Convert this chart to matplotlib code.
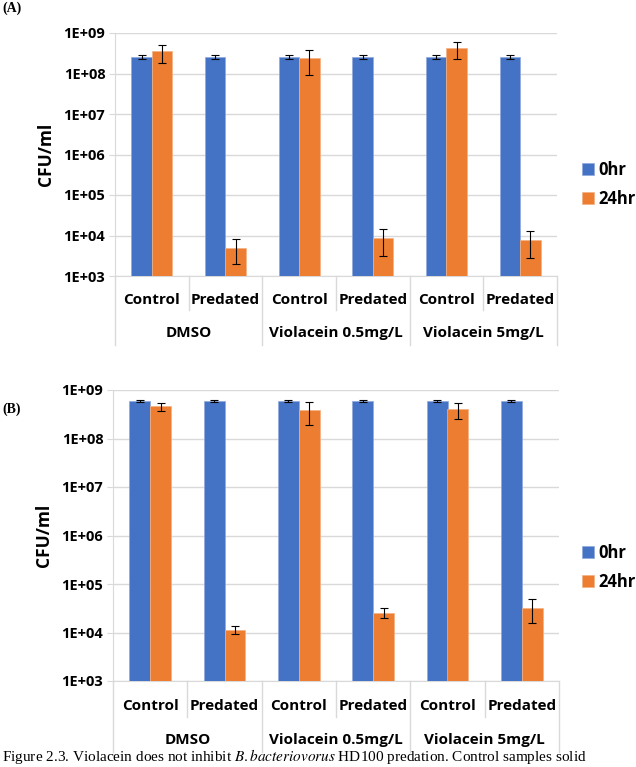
import matplotlib.pyplot as plt
import numpy as np

# data
categories = ['Control', 'Predated', 'Control', 'Predated', 'Control', 'Predated']
groups = ['DMSO', 'Violacein 0.5mg/L', 'Violacein 5mg/L']
yticks = [1e3, 1e4, 1e5, 1e6, 1e7, 1e8, 1e9]
ytick_labels = ['1E+03', '1E+04', '1E+05', '1E+06', '1E+07', '1E+08', '1E+09']

a_0hr = [2.6e8, 2.6e8, 2.6e8, 2.6e8, 2.6e8, 2.6e8]
a_0hr_err = [0.3e8, 0.3e8, 0.3e8, 0.3e8, 0.3e8, 0.3e8]
a_24hr = [3.5e8, 5.0e3, 2.4e8, 8.7e3, 4.2e8, 7.8e3]
a_24hr_err = [1.7e8, 3.0e3, 1.5e8, 5.5e3, 1.9e8, 5.0e3]

b_0hr = [6.0e8, 6.0e8, 6.0e8, 6.0e8, 6.0e8, 6.0e8]
b_0hr_err = [0.3e8, 0.3e8, 0.3e8, 0.3e8, 0.3e8, 0.3e8]
b_24hr = [4.6e8, 1.15e4, 3.8e8, 2.55e4, 4.0e8, 3.2e4]
b_24hr_err = [0.9e8, 2.2e3, 1.9e8, 6.0e3, 1.45e8, 1.6e4]

BLUE = '#4472C4'
ORANGE = '#ED7D31'
GRID = '#d9d9d9'
FONT = 'Open Sans'

fig = plt.figure(figsize=(6.36, 7.67), dpi=100)


def draw_panel(rect, v0, e0, v24, e24, cat_drop, grp_drop, leg_x, leg_y):
    ax = fig.add_axes(rect)
    x = np.arange(len(categories))
    w = 0.28
    ax.bar(x - w / 2, v0, w, color=BLUE, edgecolor='#8fa9dc', linewidth=0.5,
           yerr=e0, error_kw=dict(ecolor='black', elinewidth=0.8, capsize=3, capthick=0.8),
           label='0hr', zorder=3)
    ax.bar(x + w / 2, v24, w, color=ORANGE, edgecolor='#f4b183', linewidth=0.5,
           yerr=e24, error_kw=dict(ecolor='black', elinewidth=0.8, capsize=3, capthick=0.8),
           label='24hr', zorder=3)
    ax.set_yscale('log')
    ax.set_ylim(1e3, 1e9)
    ax.set_xlim(-0.5, len(categories) - 0.5)
    ax.set_yticks(yticks)
    ax.set_yticklabels(ytick_labels, fontfamily=FONT, fontweight='bold', fontsize=10.5)
    ax.yaxis.set_minor_locator(plt.NullLocator())
    ax.set_xticks([])
    ax.grid(axis='y', color=GRID, linewidth=1, zorder=0)
    for s in ['top', 'right']:
        ax.spines[s].set_visible(False)
    ax.spines['left'].set_color(GRID)
    ax.spines['bottom'].set_color(GRID)
    ax.tick_params(axis='y', length=4, color=GRID, pad=3)
    ax.set_ylabel('CFU/ml', fontfamily=FONT, fontweight='bold', fontsize=12.5, labelpad=6)

    # two-level category axis
    trans = ax.get_xaxis_transform()
    h = rect[3] * 7.67 * 100  # axes height in px
    c_off = -cat_drop / h
    g_off = -grp_drop / h
    for i, c in enumerate(categories):
        ax.text(i, c_off * 0.7, c, transform=trans, ha='center', va='center',
                fontfamily=FONT, fontweight='bold', fontsize=11)
    for j, g in enumerate(groups):
        ax.text(2 * j + 0.5, c_off + (g_off - c_off) * 0.66, g, transform=trans,
                ha='center', va='center', fontfamily=FONT, fontweight='bold', fontsize=11)
    for k in range(len(categories) + 1):
        xk = k - 0.5
        yk = g_off if k % 2 == 0 else c_off
        ax.plot([xk, xk], [0, yk], transform=trans, color=GRID, linewidth=1, clip_on=False)

    ax.legend(loc='center left', bbox_to_anchor=(1 + leg_x, leg_y), frameon=False, borderpad=0,
              borderaxespad=0, prop=dict(family=FONT, weight='bold', size=12),
              handlelength=0.7, handleheight=0.7, handletextpad=0.25, labelspacing=0.65)
    return ax


draw_panel([115 / 636, 1 - 276 / 767, 442 / 636, 243 / 767],
           a_0hr, a_0hr_err, a_24hr, a_24hr_err, 34, 69, 0.057, 0.377)
draw_panel([113 / 636, 1 - 681 / 767, 446 / 636, 291 / 767],
           b_0hr, b_0hr_err, b_24hr, b_24hr_err, 36, 71, 0.052, 0.39)

fig.text(2 / 636, 1 - 8 / 767, '(A)', fontfamily='Liberation Serif', fontweight='bold',
         fontsize=10, ha='left', va='center')
fig.text(2 / 636, 1 - 409 / 767, '(B)', fontfamily='Liberation Serif', fontweight='bold',
         fontsize=10, ha='left', va='center')
fig.text(2 / 636, 1 / 767,
         'Figure 2.3. Violacein does not inhibit $\\it{B. bacteriovorus}$ HD100 predation. Control samples solid',
         fontfamily='Liberation Serif', fontsize=11, ha='left', va='bottom',
         math_fontfamily='stix')

fig.savefig('out.png', dpi=100)
